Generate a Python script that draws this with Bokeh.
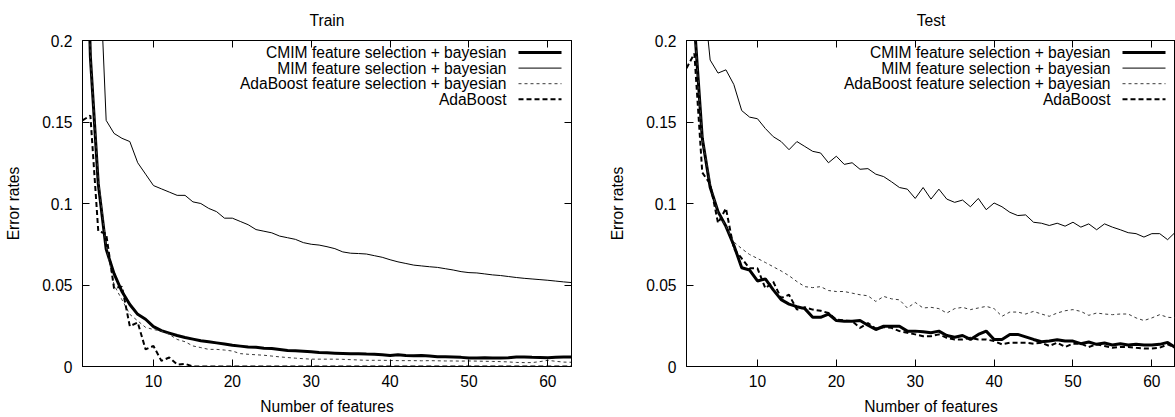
from bokeh.plotting import figure
from bokeh.models import Range1d, LinearAxis, FixedTicker, Label, Arrow, CustomJSTickFormatter
from bokeh.layouts import row
from bokeh.embed import file_html
from bokeh.resources import INLINE

features = list(range(1, 64))

series_labels = [
    "CMIM feature selection + bayesian",
    "MIM feature selection + bayesian",
    "AdaBoost feature selection + bayesian",
    "AdaBoost",
]

x_ticks = [10, 20, 30, 40, 50, 60]
y_ticks = [0, 0.05, 0.1, 0.15, 0.2]
y_tick_labels = ["0", "0.05", "0.1", "0.15", "0.2"]

# ---------------- Train ----------------
cmim_train = [0.36, 0.19, 0.112, 0.072, 0.057, 0.046, 0.038, 0.032, 0.029, 0.0245,
              0.022, 0.0205, 0.019, 0.0178, 0.0168, 0.0158, 0.0152, 0.0145, 0.0138, 0.013,
              0.0125, 0.012, 0.0118, 0.0112, 0.011, 0.0104, 0.0098, 0.0096, 0.0094, 0.009,
              0.0086, 0.0084, 0.0082, 0.008, 0.0078, 0.0078, 0.0076, 0.0075, 0.0072, 0.0068,
              0.0072, 0.0068, 0.0066, 0.0068, 0.0064, 0.006, 0.006, 0.0058, 0.0056, 0.0052,
              0.0052, 0.0053, 0.0052, 0.0052, 0.0054, 0.0058, 0.0058, 0.0056, 0.0055, 0.0054,
              0.0056, 0.0058, 0.0058]
mim_train = [0.40, 0.33, 0.266, 0.151, 0.143, 0.140, 0.138, 0.125, 0.118, 0.111,
             0.109, 0.107, 0.105, 0.105, 0.101, 0.100, 0.097, 0.095, 0.091, 0.091,
             0.089, 0.087, 0.084, 0.083, 0.082, 0.080, 0.079, 0.078, 0.076, 0.075,
             0.0745, 0.0735, 0.0723, 0.0703, 0.0695, 0.0693, 0.069, 0.068, 0.067, 0.0655,
             0.0642, 0.0632, 0.0622, 0.0617, 0.0612, 0.0608, 0.060, 0.0592, 0.0582, 0.0576,
             0.0574, 0.0568, 0.0562, 0.0558, 0.0552, 0.0546, 0.0541, 0.0537, 0.0533, 0.0529,
             0.0524, 0.0519, 0.0515]
adafs_train = [0.36, 0.19, 0.115, 0.074, 0.050, 0.041, 0.032, 0.028, 0.024, 0.0227,
               0.0217, 0.0197, 0.0166, 0.0152, 0.0126, 0.0116, 0.0105, 0.0105, 0.0101, 0.0095,
               0.0079, 0.0075, 0.0072, 0.0069, 0.0064, 0.0059, 0.0055, 0.0051, 0.0048, 0.0045,
               0.0045, 0.0045, 0.0045, 0.0044, 0.0042, 0.004, 0.0038, 0.0038, 0.0038, 0.0037,
               0.0036, 0.0036, 0.0036, 0.0035, 0.0036, 0.0035, 0.0034, 0.0034, 0.0033, 0.0034,
               0.0033, 0.0032, 0.0031, 0.0030, 0.0028, 0.0025, 0.0024, 0.0024, 0.003, 0.0038,
               0.0032, 0.0027, 0.0026]
ada_train = [0.151, 0.154, 0.083, 0.0815, 0.048, 0.049, 0.0247, 0.027, 0.0105, 0.0126,
             0.0035, 0.0055, 0.0012, 0.0016, 0.0, 0.0, 0.0, 0.0, 0.0, 0.0,
             0.0, 0.0, 0.0, 0.0, 0.0, 0.0, 0.0, 0.0, 0.0, 0.0,
             0.0, 0.0, 0.0, 0.0, 0.0, 0.0, 0.0, 0.0, 0.0, 0.0,
             0.0, 0.0, 0.0, 0.0, 0.0, 0.0, 0.0, 0.0, 0.0, 0.0,
             0.0, 0.0, 0.0, 0.0, 0.0, 0.0, 0.0, 0.0, 0.0, 0.0,
             0.0, 0.0, 0.0]

# ---------------- Test ----------------
cmim_test = [0.33, 0.21, 0.14, 0.11, 0.095, 0.086, 0.0744, 0.0606, 0.0592, 0.0525,
             0.0537, 0.047, 0.041, 0.0383, 0.0367, 0.0355, 0.0302, 0.0302, 0.0322, 0.0282,
             0.0278, 0.0278, 0.0282, 0.0253, 0.0227, 0.0247, 0.0247, 0.0247, 0.0217, 0.0217,
             0.0213, 0.0207, 0.0217, 0.019, 0.018, 0.019, 0.0166, 0.0197, 0.0217, 0.0166,
             0.0166, 0.0197, 0.0197, 0.0182, 0.0166, 0.0152, 0.0156, 0.0164, 0.0156, 0.0156,
             0.014, 0.015, 0.0136, 0.0144, 0.0132, 0.014, 0.0132, 0.0136, 0.0132, 0.0132,
             0.0136, 0.0148, 0.0115]
mim_test = [0.42, 0.34, 0.236, 0.188, 0.180, 0.182, 0.173, 0.157, 0.153, 0.152,
            0.146, 0.141, 0.138, 0.133, 0.138, 0.135, 0.132, 0.131, 0.125, 0.129,
            0.124, 0.125, 0.121, 0.1214, 0.118, 0.1165, 0.1133, 0.1098, 0.1088, 0.1031,
            0.1098, 0.1027, 0.1088, 0.1027, 0.1007, 0.1021, 0.098, 0.1031, 0.0962, 0.1003,
            0.098, 0.0946, 0.0926, 0.093, 0.0885, 0.0879, 0.0865, 0.0879, 0.0861, 0.0885,
            0.0855, 0.0875, 0.0839, 0.0875, 0.0855, 0.0839, 0.0821, 0.0815, 0.0794, 0.0815,
            0.0815, 0.0778, 0.0825]
adafs_test = [0.33, 0.21, 0.14, 0.112, 0.094, 0.086, 0.0764, 0.0723, 0.0687, 0.0663,
              0.0638, 0.0612, 0.0586, 0.0557, 0.0521, 0.049, 0.0484, 0.049, 0.0466, 0.046,
              0.046, 0.045, 0.044, 0.0434, 0.0399, 0.043, 0.0415, 0.0409, 0.0359, 0.0393,
              0.0359, 0.0363, 0.0355, 0.0328, 0.0355, 0.0363, 0.0349, 0.0359, 0.0369, 0.0355,
              0.0308, 0.0334, 0.0334, 0.0322, 0.0338, 0.0322, 0.0308, 0.0328, 0.0342, 0.0349,
              0.0338, 0.0314, 0.0328, 0.0322, 0.0318, 0.0322, 0.0322, 0.0298, 0.0282, 0.0298,
              0.0318, 0.0302, 0.0298]
ada_test = [0.183, 0.192, 0.119, 0.112, 0.088, 0.097, 0.0723, 0.0663, 0.0602, 0.0602,
            0.048, 0.052, 0.042, 0.044, 0.0349, 0.0363, 0.0349, 0.0342, 0.0328, 0.0288,
            0.0282, 0.0278, 0.0237, 0.0267, 0.0233, 0.0241, 0.0237, 0.0217, 0.0207, 0.0197,
            0.0186, 0.0186, 0.0197, 0.0176, 0.0166, 0.0166, 0.0176, 0.0166, 0.0166, 0.0156,
            0.0136, 0.0146, 0.0146, 0.0146, 0.014, 0.0146, 0.0126, 0.0146, 0.012, 0.014,
            0.014, 0.012, 0.0136, 0.0126, 0.0115, 0.012, 0.012, 0.0115, 0.0111, 0.0111,
            0.0115, 0.0136, 0.0115]

FONT = "Liberation Sans"
FS = "15.6px"

line_styles = [
    dict(line_width=3, line_color="black"),
    dict(line_width=1, line_color="black"),
    dict(line_width=1, line_color="#3a3a3a", line_dash="3 3"),
    dict(line_width=2, line_color="black", line_dash="5 3"),
]


def style_axis(ax, ticks, show_labels):
    ax.ticker = FixedTicker(ticks=ticks)
    ax.axis_line_color = "black"
    ax.major_tick_line_color = "black"
    ax.major_tick_in = 7
    ax.major_tick_out = 0
    ax.minor_tick_line_color = None
    ax.major_label_text_font = FONT
    ax.major_label_text_font_size = FS
    ax.major_label_text_color = "black"
    ax.axis_label_text_font = FONT
    ax.axis_label_text_font_size = FS
    ax.axis_label_text_font_style = "normal"
    ax.axis_label_text_color = "black"
    if not show_labels:
        ax.formatter = CustomJSTickFormatter(code="return ''")
        ax.major_label_text_font_size = "0px"
        ax.major_label_standoff = 0


def make_panel(title, series, width, border_left, border_right, mirror_right):
    p = figure(width=width, height=417,
               x_range=Range1d(1, 63), y_range=Range1d(0, 0.2),
               output_backend="svg", toolbar_location=None,
               min_border_left=border_left, min_border_right=border_right,
               min_border_top=40, min_border_bottom=48)
    p.title.visible = False
    p.xgrid.visible = False
    p.ygrid.visible = False
    p.outline_line_color = "black"
    p.outline_line_width = 1
    p.background_fill_color = "white"
    p.border_fill_color = "white"

    style_axis(p.xaxis[0], x_ticks, True)
    style_axis(p.yaxis[0], y_ticks, True)
    p.yaxis[0].major_label_overrides = {t: s for t, s in zip(y_ticks, y_tick_labels)}
    p.xaxis[0].axis_label = "Number of features"
    p.yaxis[0].axis_label = "Error rates"
    p.xaxis[0].major_label_standoff = 8
    p.xaxis[0].axis_label_standoff = 8
    p.yaxis[0].major_label_standoff = 10
    p.yaxis[0].axis_label_standoff = 17

    # mirrored top axis (inward ticks) which also carries the panel title
    top = LinearAxis()
    style_axis(top, x_ticks, False)
    top.axis_label = title
    top.axis_label_standoff = 12
    p.add_layout(top, "above")
    if mirror_right:
        right = LinearAxis()
        style_axis(right, y_ticks, False)
        p.add_layout(right, "right")

    for ys, st in zip(series, line_styles):
        p.line(features, ys, **st)

    # gnuplot-style key: right-aligned text followed by line sample
    for i, (lab, st) in enumerate(zip(series_labels, line_styles)):
        yy = 314 - 15.6 * i
        p.add_layout(Label(x=424, y=yy, x_units="screen", y_units="screen", text=lab,
                           text_align="right", text_baseline="middle",
                           text_font=FONT, text_font_size=FS, text_color="black"))
        p.add_layout(Arrow(x_start=436, x_end=479, y_start=yy, y_end=yy,
                           start_units="screen", end_units="screen",
                           start=None, end=None, **st))
    return p


p1 = make_panel("Train", [cmim_train, mim_train, adafs_train, ada_train], 596, 82, 25, True)
p2 = make_panel("Test", [cmim_test, mim_test, adafs_test, ada_test], 579, 90, 0, False)

layout = row(p1, p2)
open("out.html", "w").write(file_html(layout, INLINE))
